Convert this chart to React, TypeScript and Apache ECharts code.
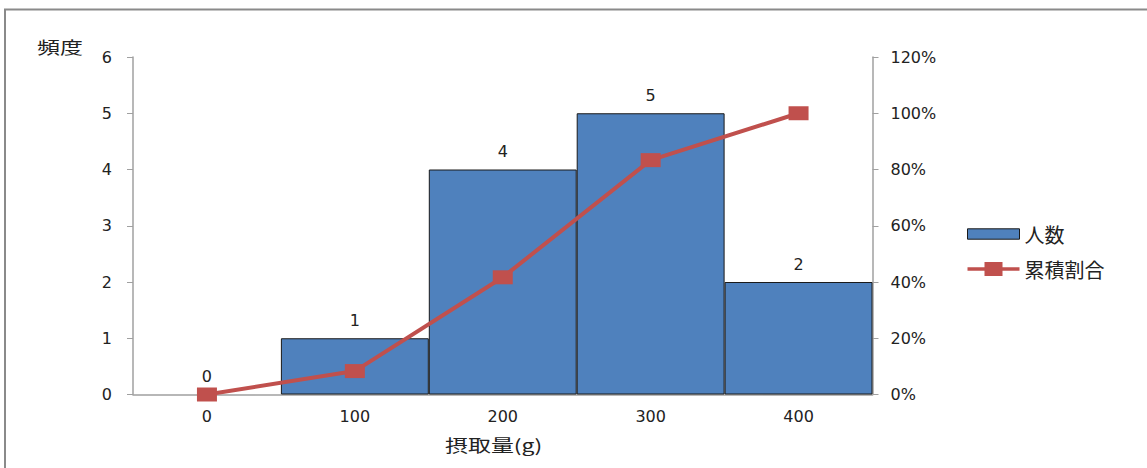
import React, { useEffect, useRef } from "react";
import * as echarts from "echarts";

const categories = ["0", "100", "200", "300", "400"];
const counts = [0, 1, 4, 5, 2];
const cumulative = [0, 0.0833, 0.4167, 0.8333, 1.0];
const leftTicks = { min: 0, max: 6, interval: 1 };
const rightTicks = { min: 0, max: 1.2, interval: 0.2 };

const FONT = "'DejaVu Sans', 'Noto Sans CJK JP', sans-serif";
const CJK = "'Noto Sans CJK JP', sans-serif";

export default function App() {
  const ref = useRef<HTMLDivElement>(null);
  useEffect(() => {
    if (!ref.current) return;
    const chart = echarts.init(ref.current, undefined, { renderer: "svg" });
    chart.setOption({
      animation: false,
      backgroundColor: "#ffffff",
      grid: { left: 133, right: 274.5, top: 57, bottom: 73.5 },
      graphic: [
        {
          type: "rect",
          silent: true,
          shape: { x: 5, y: 9.5, width: 1300, height: 700 },
          style: { fill: "none", stroke: "#8a8a8a", lineWidth: 2 },
        },
        {
          type: "text",
          x: 37,
          y: 38,
          scaleX: 1.35,
          style: { text: "頻度", font: `17px ${CJK}`, fill: "#222" },
        },
        {
          type: "text",
          x: 445,
          y: 436,
          scaleX: 1.35,
          style: { text: "摂取量(g)", font: `17px ${CJK}`, fill: "#222" },
        },
      ],
      legend: {
        orient: "vertical",
        left: 962,
        top: 219,
        itemWidth: 52,
        itemHeight: 14,
        itemGap: 15,
        textStyle: { fontFamily: CJK, fontSize: 20, color: "#222" },
        data: [
          {
            name: "人数",
            icon: "path://M0 0 H50 V10 H0 Z",
            itemStyle: { borderWidth: 1, borderColor: "#1a1a1a" },
          },
          {
            name: "累積割合",
            icon: "path://M0 5.25 H17 V0 H35 V5.25 H52 V8.75 H35 V14 H17 V8.75 H0 Z",
            itemStyle: { borderWidth: 0 },
          },
        ],
      },
      xAxis: {
        type: "category",
        data: categories,
        axisLine: { lineStyle: { color: "#a0a0a0", width: 1.5 } },
        axisTick: { show: false },
        axisLabel: { color: "#222", fontFamily: FONT, fontSize: 16, margin: 14 },
      },
      yAxis: [
        {
          type: "value",
          ...leftTicks,
          axisLine: { show: true, lineStyle: { color: "#a0a0a0", width: 1.5 } },
          axisTick: { show: true, length: 6, lineStyle: { color: "#a0a0a0" } },
          splitLine: { show: false },
          axisLabel: { color: "#222", fontFamily: FONT, fontSize: 16, margin: 21 },
        },
        {
          type: "value",
          ...rightTicks,
          position: "right",
          axisLine: { show: true, lineStyle: { color: "#a0a0a0", width: 1.5 } },
          axisTick: { show: true, length: 6, lineStyle: { color: "#a0a0a0" } },
          splitLine: { show: false },
          axisLabel: {
            color: "#222",
            fontFamily: FONT,
            fontSize: 16,
            margin: 18,
            formatter: (v: number) => `${Math.round(v * 100)}%`,
          },
        },
      ],
      series: [
        {
          name: "人数",
          type: "bar",
          data: counts.map((v) =>
            v === 0 ? { value: v, itemStyle: { borderWidth: 0 } } : v
          ),
          barCategoryGap: "0%",
          itemStyle: { color: "#4F81BD", borderColor: "#1a1a1a", borderWidth: 1 },
          label: {
            show: true,
            position: "top",
            distance: 10,
            color: "#222",
            fontFamily: FONT,
            fontSize: 16,
          },
        },
        {
          name: "累積割合",
          type: "line",
          yAxisIndex: 1,
          data: cumulative,
          symbol: "rect",
          symbolSize: [20, 14],
          lineStyle: { color: "#C0504D", width: 4 },
          itemStyle: { color: "#C0504D" },
          z: 5,
        },
      ],
    });
    return () => chart.dispose();
  }, []);
  return (
    <div
      ref={ref}
      style={{ position: "absolute", left: 0, top: 0, width: 1147, height: 468 }}
    />
  );
}
